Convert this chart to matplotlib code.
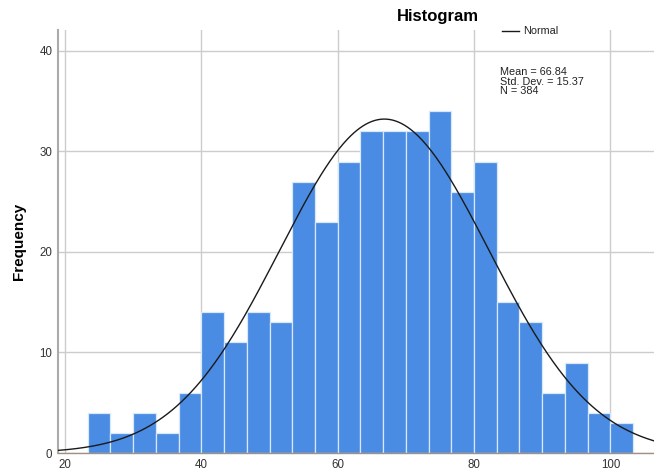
import numpy as np
import matplotlib
matplotlib.use("Agg")
import matplotlib.pyplot as plt

plt.rcParams['font.family'] = ['Liberation Sans', 'DejaVu Sans']

bin_start = 23.333
bin_width = 3.3333
counts = [4, 2, 4, 2, 6, 14, 11, 14, 13, 27, 23, 29, 32, 32, 32, 34, 26, 29, 15, 13, 6, 9, 4, 3]
mean_val = 66.84
sd_val = 15.37
n_val = 384
x_ticks = [20, 40, 60, 80, 100]
y_ticks = [0, 10, 20, 30, 40]

fig = plt.figure(figsize=(6.54, 4.76), dpi=100)
ax = fig.add_axes([0.0887, 0.0483, 0.9113, 0.889])

lefts = bin_start + bin_width * np.arange(len(counts))
ax.bar(lefts, counts, width=bin_width, align='edge', color='#4a8be3',
       edgecolor='#d6e8fa', linewidth=0.9, zorder=2)

xs = np.linspace(18.9, 106.5, 400)
pdf = n_val * bin_width / (sd_val * np.sqrt(2 * np.pi)) * np.exp(-0.5 * ((xs - mean_val) / sd_val) ** 2)
ax.plot(xs, pdf, color='#1a1a1a', linewidth=1.0, zorder=3, label='Normal')

ax.set_xlim(18.97, 106.4)
ax.set_ylim(0, 42.1)
ax.set_xticks(x_ticks)
ax.set_yticks(y_ticks)
ax.tick_params(length=0, labelsize=8.3, colors='#333333', pad=4)
ax.grid(True, color='#cccccc', linewidth=1.0, zorder=0)
ax.set_axisbelow(True)
for s in ['top', 'right']:
    ax.spines[s].set_visible(False)
ax.spines['left'].set_color('#aaaaaa')
ax.spines['left'].set_linewidth(1.5)
ax.spines['bottom'].set_color('#a09080')
ax.spines['bottom'].set_linewidth(1.0)

ax.set_ylabel('Frequency', fontsize=11, fontweight='bold', labelpad=10)
fig.text(0.67, 0.965, 'Histogram', fontsize=12, fontweight='bold', ha='center', va='center')

# legend
fig.lines.append(plt.Line2D([502/654, 519/654], [1 - 31/476, 1 - 31/476], color='#1a1a1a', linewidth=1.0, transform=fig.transFigure))
fig.text(523/654, 1 - 31/476, 'Normal', fontsize=7.8, ha='left', va='center', color='#222222')

fig.text(500/654, 1 - 67/476,
         'Mean = %.2f\nStd. Dev. = %.2f\nN = %d' % (mean_val, sd_val, n_val),
         fontsize=7.8, ha='left', va='top', linespacing=0.95, color='#222222')

fig.savefig('out.png', dpi=100)
